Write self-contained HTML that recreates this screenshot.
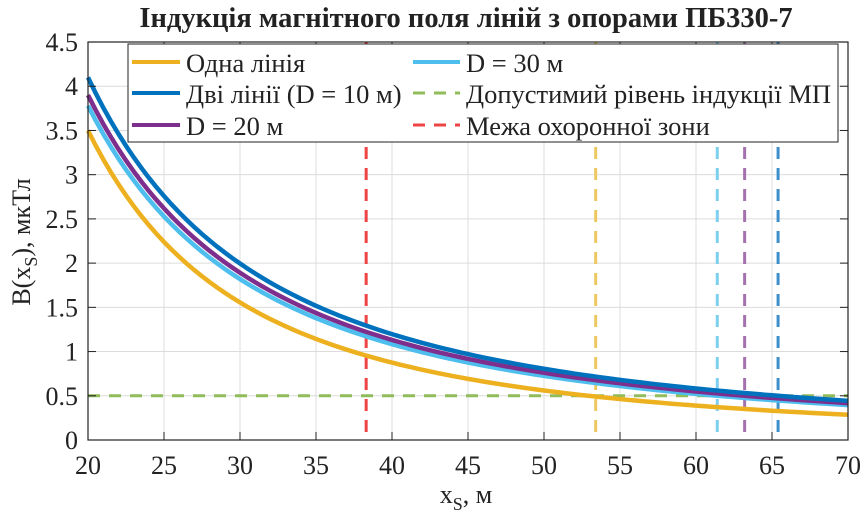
<!DOCTYPE html>
<html><head><meta charset="utf-8"><style>
body{margin:0;background:#fff}
svg, svg text, svg tspan{font-family:"Liberation Serif","Times New Roman","DejaVu Serif",serif}
svg text{fill:#222}
</style></head><body>
<svg id="s" width="867" height="525" xmlns="http://www.w3.org/2000/svg" font-family="Liberation Serif, serif">
<rect width="867" height="525" fill="#fff"/>
<g id="grid" stroke="#dcdcdc" stroke-width="1"></g>
<g id="curves" fill="none"></g>
<rect x="88" y="42" width="760" height="398" fill="none" stroke="#222" stroke-width="1.2"/>
<g id="ticks" stroke="#222" stroke-width="1"></g>
<g id="labels" font-size="26"></g>
<text x="466" y="27" font-size="28.5" font-weight="bold" text-anchor="middle">Індукція магнітного поля ліній з опорами ПБ330-7</text>
<text x="466" y="503" font-size="26" text-anchor="middle">x<tspan font-size="18" dy="7">S</tspan><tspan dy="-7">, м</tspan></text>
<text transform="translate(30,242) rotate(-90)" font-size="26" text-anchor="middle">B(x<tspan font-size="18" dy="7">S</tspan><tspan dy="-7">), мкТл</tspan></text>
<g id="legend">
<rect x="128" y="44" width="710" height="98" fill="#fff" stroke="#222" stroke-width="1"/>
<line x1="132" y1="62" x2="180" y2="62" stroke="#EDB120" stroke-width="4"/>
<line x1="132" y1="93" x2="180" y2="93" stroke="#0072BD" stroke-width="4"/>
<line x1="132" y1="125" x2="180" y2="125" stroke="#7E2F8E" stroke-width="4"/>
<line x1="413" y1="62" x2="460" y2="62" stroke="#4DBEEE" stroke-width="4"/>
<line x1="413" y1="93" x2="460" y2="93" stroke="#90BC5A" stroke-width="3" stroke-dasharray="12,9"/>
<line x1="413" y1="125" x2="460" y2="125" stroke="#EE4444" stroke-width="3" stroke-dasharray="12,9"/>
<g font-size="26.5">
<text x="186" y="72">Одна лінія</text>
<text x="186" y="103">Дві лінії (D = 10 м)</text>
<text x="186" y="135">D = 20 м</text>
<text x="466" y="72">D = 30 м</text>
<text x="466" y="103">Допустимий рівень індукції МП</text>
<text x="466" y="135">Межа охоронної зони</text>
</g></g>
<script>
var X=v=>88+(v-20)*15.2, Y=v=>440-v*88.44;
var g=document.getElementById('grid'),t=document.getElementById('ticks'),l=document.getElementById('labels'),c=document.getElementById('curves');
var NS='http://www.w3.org/2000/svg';
function el(p,n,a,txt){var e=document.createElementNS(NS,n);for(var k in a)e.setAttribute(k,a[k]);if(txt!=null)e.textContent=txt;p.appendChild(e);return e;}
for(var x=20;x<=70;x+=5){var px=X(x);el(g,'line',{x1:px,y1:42,x2:px,y2:440});el(t,'line',{x1:px,y1:440,x2:px,y2:432});el(t,'line',{x1:px,y1:42,x2:px,y2:50});el(l,'text',{x:px,y:474,'text-anchor':'middle'},x);}
for(var i=0;i<=9;i++){var v=i*0.5,py=Y(v);el(g,'line',{x1:88,y1:py,x2:848,y2:py});el(t,'line',{x1:88,y1:py,x2:96,y2:py});el(t,'line',{x1:848,y1:py,x2:840,y2:py});el(l,'text',{x:78,y:py+9,'text-anchor':'end'},v);}
[[38.3,'#EE4444'],[53.4,'#EDC860'],[61.4,'#7DCFF0'],[63.2,'#A66FB0'],[65.4,'#3D8FCB']].forEach(function(d){el(c,'line',{x1:X(d[0]),y1:42,x2:X(d[0]),y2:440,stroke:d[1],'stroke-width':3,'stroke-dasharray':'12,9'});});
el(c,'line',{x1:88,y1:Y(0.5),x2:848,y2:Y(0.5),stroke:'#90BC5A','stroke-width':3,'stroke-dasharray':'12,9'});
function curve(a,p,col){var s='';for(var x=20;x<=70.001;x+=0.5){s+=X(x)+','+Y(a*Math.pow(20/x,p))+' ';}el(c,'polyline',{points:s,stroke:col,'stroke-width':4.5});}
curve(3.5,2,'#EDB120');
curve(3.78,1.803,'#4DBEEE');
curve(3.9,1.785,'#7E2F8E');
curve(4.1,1.776,'#0072BD');
</script>
</svg>
</body></html>
